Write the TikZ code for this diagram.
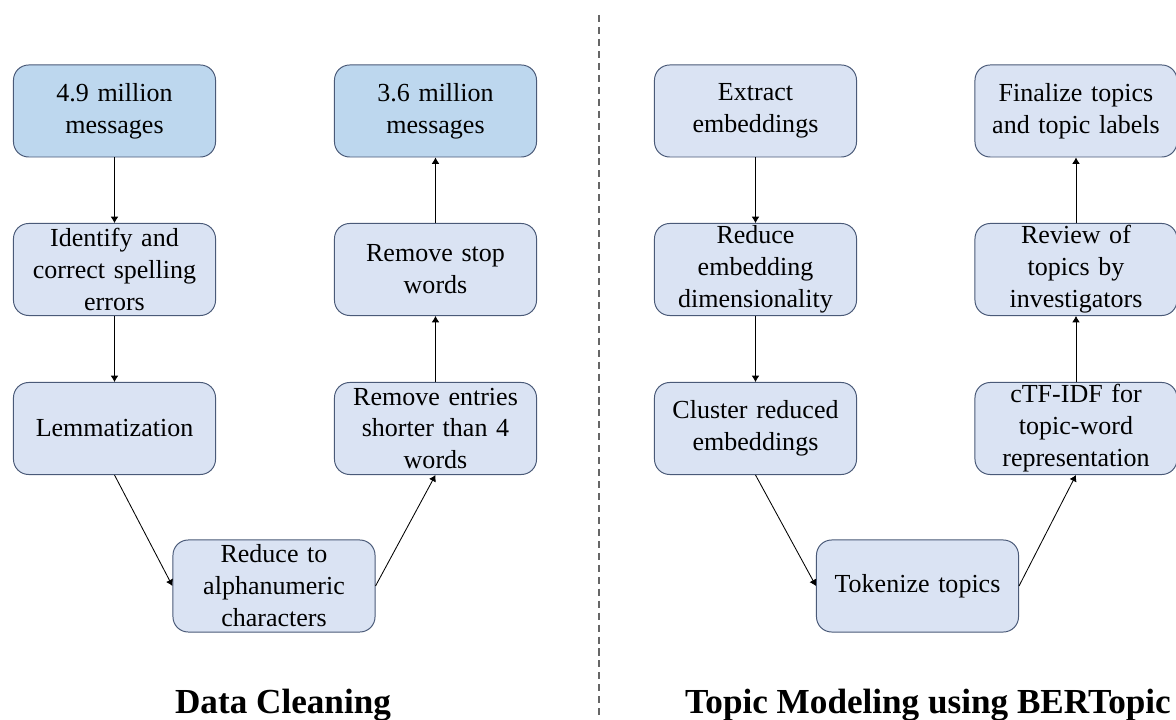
\documentclass[tikz,border=0pt]{standalone}
\usepackage{fontspec}
\setmainfont{Liberation Serif}
\usetikzlibrary{arrows.meta}
\definecolor{boxblue}{HTML}{BDD7EE}
\definecolor{boxpale}{HTML}{DAE3F3}
\definecolor{boxline}{HTML}{4A5A78}

\begin{document}
\begin{tikzpicture}[x=0.025cm,y=-0.025cm,>={Latex[length=4.5pt,width=5.5pt]},
  stage/.style={draw=boxline,line width=0.7pt,fill=boxpale,rounded corners=0.38cm,
    minimum width=5.05cm,minimum height=2.3cm,text width=4.9cm,align=center,inner sep=0pt,
    font=\fontsize{18.5}{22.7}\selectfont},
  ends/.style={stage,fill=boxblue},
  flow/.style={->,line width=0.6pt,black},
  heading/.style={anchor=base,inner sep=0pt,font=\fontsize{25}{30}\selectfont\bfseries}]
\useasboundingbox (0,0) rectangle (1176,720);
% data cleaning
\node[ends]  (raw)   at (114.5,111)   {4.9 million\\messages};
\node[stage] (spell) at (114.5,269.5) {Identify and\\correct spelling\\errors};
\node[stage] (lemma) at (114.5,428.5) {Lemmatization};
\node[stage] (alnum) at (274,586)     {Reduce to\\alphanumeric\\characters};
\node[stage] (short) at (435.5,428.5) {Remove entries\\shorter than 4\\words};
\node[stage] (stop)  at (435.5,269.5) {Remove stop\\words};
\node[ends]  (clean) at (435.5,111)   {3.6 million\\messages};
\draw[flow] (raw) -- (spell);
\draw[flow] (spell) -- (lemma);
\draw[flow] (lemma.south) -- (alnum.west);
\draw[flow] (alnum.east) -- (short.south);
\draw[flow] (short) -- (stop);
\draw[flow] (stop) -- (clean);
% topic modeling
\node[stage] (embed)  at (755.5,111)   {Extract\\embeddings};
\node[stage] (reduce) at (755.5,269.5) {Reduce\\embedding\\dimensionality};
\node[stage] (clust)  at (755.5,428.5) {Cluster reduced\\embeddings};
\node[stage] (token)  at (917.5,586)   {Tokenize topics};
\node[stage] (ctfidf) at (1076,428.5)  {cTF-IDF for\\topic-word\\representation};
\node[stage] (review) at (1076,269.5)  {Review of\\topics by\\investigators};
\node[stage] (final)  at (1076,111)    {Finalize topics\\and topic labels};
\draw[flow] (embed) -- (reduce);
\draw[flow] (reduce) -- (clust);
\draw[flow] (clust.south) -- (token.west);
\draw[flow] (token.east) -- (ctfidf.south);
\draw[flow] (ctfidf) -- (review);
\draw[flow] (review) -- (final);
% divider and headings
\coordinate (divtop) at (599,15);
\coordinate (divbot) at (599,720);
\draw[black!60,line width=0.8pt,dash pattern=on 5pt off 3.5pt] (divtop) -- (divbot);
\node[heading] (left)  at (283,713) {Data Cleaning};
\node[heading] (right) at (928,713) {Topic Modeling using BERTopic};
\end{tikzpicture}
\end{document}
